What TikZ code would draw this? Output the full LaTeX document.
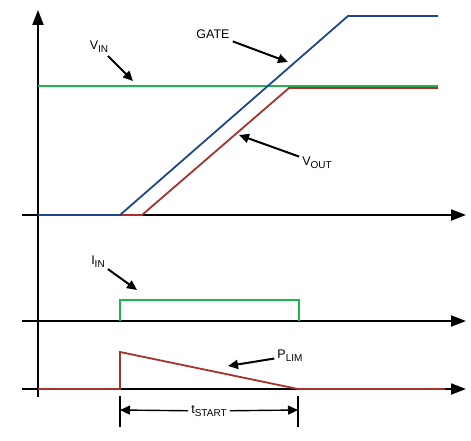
\documentclass[tikz,border=0pt]{standalone}
\usepackage{fontspec}
\setmainfont{Liberation Sans}
\usetikzlibrary{arrows.meta}
\definecolor{vingreen}{RGB}{30,180,80}
\definecolor{gateblue}{RGB}{30,70,140}
\definecolor{voutred}{RGB}{165,50,45}
\newcommand{\lsub}[1]{\raisebox{-0.45ex}{\fontsize{10}{10}\selectfont #1}}
\tikzstyle{axis}=[line width=2pt, -{Triangle[length=15pt,width=11pt]}]
\tikzstyle{sig}=[line width=1.8pt, line join=miter]
\tikzstyle{pointer}=[line width=2pt, -{Triangle[length=10pt,width=9pt]}]
\tikzstyle{dim}=[line width=1.4pt, -{Triangle[length=10pt,width=9pt]}]
\tikzstyle{lbl}=[font=\fontsize{12.5}{14}\selectfont, inner sep=3pt]

\begin{document}
\begin{tikzpicture}[x=1pt,y=-1pt]
  \useasboundingbox (0,0) rectangle (471,441);
  % axes
  \coordinate (ybot) at (38,397);
  \coordinate (ytop) at (38,10);
  \coordinate (a1s) at (22,215);  \coordinate (a1e) at (466,215);
  \coordinate (a2s) at (22,321);  \coordinate (a2e) at (466,321);
  \coordinate (a3s) at (22,389);  \coordinate (a3e) at (466,389);
  \draw[axis] (ybot) -- (ytop);
  \draw[axis] (a1s) -- (a1e);
  \draw[axis] (a2s) -- (a2e);
  \draw[axis] (a3s) -- (a3e);

  % waveforms
  \draw[sig,voutred] (120,215) -- (142,215) -- (289,88) -- (438,88);
  \draw[sig,vingreen] (38,86) -- (438,86);
  \draw[sig,gateblue] (38,215) -- (120,215) -- (348,16) -- (438,16);
  \draw[sig,vingreen] (120,321) -- (120,300) -- (299,300) -- (299,321);
  \draw[sig,voutred] (38,389) -- (120,389) -- (120,352) -- (298,389) -- (445,389);

  % labels
  \node[lbl] (vin) at (99,47) {V\lsub{IN}};
  \node[lbl] (gate) at (213,34) {GATE};
  \node[lbl] (vout) at (317,163) {V\lsub{OUT}};
  \node[lbl] (iin) at (98,262) {I\lsub{IN}};
  \node[lbl] (plim) at (290,356) {P\lsub{LIM}};
  \coordinate (vintip) at (133,81);
  \coordinate (gatetip) at (288,62);
  \coordinate (vouttip) at (239,135);
  \coordinate (iintip) at (137,290);
  \coordinate (plimtip) at (228,366);
  \draw[pointer] (vin) -- (vintip);
  \draw[pointer] (gate) -- (gatetip);
  \draw[pointer] (vout) -- (vouttip);
  \draw[pointer] (iin) -- (iintip);
  \draw[pointer] (plim) -- (plimtip);

  % start time
  \coordinate (t0a) at (120,396); \coordinate (t0b) at (120,427);
  \coordinate (t1a) at (298,396); \coordinate (t1b) at (298,427);
  \draw[line width=1.4pt] (t0a) -- (t0b);
  \draw[line width=1.4pt] (t1a) -- (t1b);
  \node[lbl] (tstart) at (209,411) {t\lsub{START}};
  \draw[dim] (tstart) -- (120,410);
  \draw[dim] (tstart) -- (298,410);
\end{tikzpicture}
\end{document}
